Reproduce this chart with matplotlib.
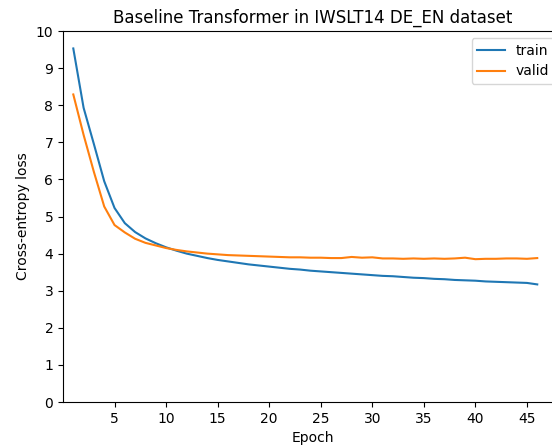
import matplotlib
matplotlib.use("Agg")
import matplotlib.pyplot as plt

epochs = list(range(1, 47))

# per-epoch cross-entropy loss
train_loss = [9.53, 7.93, 6.95, 5.95, 5.23, 4.82, 4.58, 4.41, 4.28, 4.17,
              4.08, 4.00, 3.94, 3.88, 3.83, 3.79, 3.75, 3.71, 3.68, 3.65,
              3.62, 3.59, 3.57, 3.54, 3.52, 3.50, 3.48, 3.46, 3.44, 3.42,
              3.40, 3.39, 3.37, 3.35, 3.34, 3.32, 3.31, 3.29, 3.28, 3.27,
              3.25, 3.24, 3.23, 3.22, 3.21, 3.17]
valid_loss = [8.29, 7.20, 6.20, 5.27, 4.77, 4.57, 4.40, 4.29, 4.22, 4.15,
              4.10, 4.06, 4.03, 4.00, 3.98, 3.96, 3.95, 3.94, 3.93, 3.92,
              3.91, 3.90, 3.90, 3.89, 3.89, 3.88, 3.88, 3.91, 3.89, 3.90,
              3.87, 3.87, 3.86, 3.87, 3.86, 3.87, 3.86, 3.87, 3.89, 3.85,
              3.86, 3.86, 3.87, 3.87, 3.86, 3.88]

fig = plt.figure(figsize=(5.52, 4.45), dpi=100)
ax = fig.add_axes([0.1141, 0.0966, 0.904, 0.8337])
ax.plot(epochs, train_loss, label="train")
ax.plot(epochs, valid_loss, label="valid")
ax.set_xlim(0, 48.4)
ax.set_ylim(0, 10)
ax.set_xticks(range(5, 46, 5))
ax.set_yticks(range(0, 11))
ax.set_xlabel("Epoch")
ax.set_ylabel("Cross-entropy loss")
ax.set_title("Baseline Transformer in IWSLT14 DE_EN dataset")
ax.legend(loc="upper right")

fig.savefig("out.png", dpi=100)
